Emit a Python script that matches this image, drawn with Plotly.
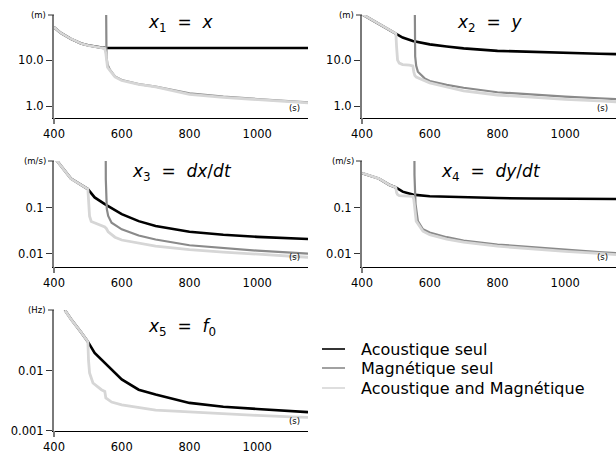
import plotly.graph_objects as go

# ---------------- data ----------------
# Panel 1 : x1 = x  (m)
p1_ac_t = [400, 420, 450, 480, 500, 520, 540, 550, 600, 700, 800, 900, 1000, 1100, 1150]
p1_ac_v = [52, 39, 29, 23, 21, 19.5, 18.7, 18.5, 18.4, 18.4, 18.4, 18.4, 18.4, 18.4, 18.4]
p1_mg_t = [552, 553, 555, 558, 565, 580, 600, 650, 700, 800, 900, 1000, 1100, 1150]
p1_mg_v = [1e4, 40, 12, 8, 6.2, 4.4, 3.7, 3.0, 2.65, 1.9, 1.6, 1.42, 1.27, 1.2]
p1_am_t = [400, 420, 450, 480, 500, 520, 540, 550, 553, 555, 558, 565, 580, 600, 650, 700, 800, 900, 1000, 1100, 1150]
p1_am_v = [52, 39, 29, 23, 21, 19.5, 18.3, 18, 14, 9, 7, 6, 4.3, 3.6, 2.95, 2.6, 1.8, 1.55, 1.4, 1.25, 1.17]

# Panel 2 : x2 = y  (m)
p2_ac_t = [400, 450, 500, 520, 550, 600, 650, 700, 800, 900, 1000, 1100, 1150]
p2_ac_v = [100, 62, 38, 31, 26, 22, 19.8, 18, 15.9, 15, 14.4, 13.8, 13.5]
p2_mg_t = [554, 555, 557, 560, 565, 585, 600, 650, 700, 800, 900, 1000, 1100, 1150]
p2_mg_v = [1e4, 40, 12, 7.5, 5.6, 4.0, 3.5, 2.9, 2.5, 2.0, 1.78, 1.6, 1.48, 1.42]
p2_am_t = [400, 450, 500, 502, 505, 510, 520, 540, 550, 553, 556, 560, 580, 600, 650, 700, 800, 900, 1000, 1100, 1150]
p2_am_v = [100, 62, 38, 20, 10, 8.6, 8.0, 7.8, 7.5, 5.5, 4.6, 4.3, 3.7, 3.2, 2.6, 2.15, 1.74, 1.55, 1.4, 1.3, 1.24]

# Panel 3 : x3 = dx/dt  (m/s)
p3_ac_t = [405, 450, 500, 520, 550, 600, 650, 700, 800, 900, 1000, 1100, 1150]
p3_ac_v = [1.1, 0.42, 0.25, 0.165, 0.118, 0.072, 0.051, 0.040, 0.030, 0.026, 0.0234, 0.0218, 0.021]
p3_mg_t = [552, 553, 556, 560, 570, 600, 650, 700, 800, 900, 1000, 1100, 1150]
p3_mg_v = [100, 0.4, 0.092, 0.066, 0.047, 0.034, 0.025, 0.0205, 0.0154, 0.0133, 0.0118, 0.0107, 0.0102]
p3_am_t = [405, 450, 500, 502, 505, 510, 530, 550, 555, 560, 580, 600, 700, 800, 900, 1000, 1100, 1150]
p3_am_v = [1.1, 0.42, 0.25, 0.12, 0.065, 0.05, 0.044, 0.038, 0.035, 0.030, 0.023, 0.020, 0.0147, 0.0124, 0.011, 0.010, 0.0089, 0.0085]

# Panel 4 : x4 = dy/dt  (m/s)
p4_ac_t = [400, 450, 480, 500, 520, 550, 600, 700, 800, 900, 1000, 1100, 1150]
p4_ac_v = [0.55, 0.42, 0.31, 0.27, 0.22, 0.19, 0.175, 0.165, 0.16, 0.157, 0.154, 0.153, 0.153]
p4_mg_t = [554, 555, 558, 565, 580, 600, 650, 700, 800, 900, 1000, 1100, 1150]
p4_mg_v = [100, 0.5, 0.12, 0.051, 0.034, 0.029, 0.023, 0.0195, 0.016, 0.014, 0.0124, 0.011, 0.0105]
p4_am_t = [400, 450, 480, 500, 502, 505, 510, 550, 553, 556, 560, 580, 600, 650, 700, 800, 900, 1000, 1100, 1150]
p4_am_v = [0.55, 0.42, 0.31, 0.27, 0.21, 0.19, 0.18, 0.175, 0.15, 0.085, 0.051, 0.031, 0.026, 0.021, 0.018, 0.0147, 0.0128, 0.0114, 0.0103, 0.0097]

# Panel 5 : x5 = f0  (Hz)
p5_ac_t = [432, 450, 480, 500, 520, 550, 600, 650, 700, 800, 900, 1000, 1100, 1150]
p5_ac_v = [0.1, 0.071, 0.043, 0.030, 0.0196, 0.0134, 0.0071, 0.0048, 0.0040, 0.0029, 0.0025, 0.0023, 0.0021, 0.00204]
p5_am_t = [432, 450, 480, 500, 502, 505, 515, 540, 550, 553, 570, 600, 700, 800, 900, 1000, 1100, 1150]
p5_am_v = [0.1, 0.071, 0.043, 0.030, 0.0145, 0.0091, 0.0062, 0.0048, 0.0045, 0.0035, 0.0030, 0.0027, 0.0022, 0.00204, 0.0019, 0.0018, 0.0017, 0.00167]

series_names = ["Acoustique seul", "Magnétique seul", "Acoustique and Magnétique"]
series_colors = ["#000000", "#8a8a8a", "#d6d6d6"]
series_widths = [2.6, 2.2, 2.8]

panel_titles = ["<i>x</i><sub>1</sub>  =  <i>x</i>",
                "<i>x</i><sub>2</sub>  =  <i>y</i>",
                "<i>x</i><sub>3</sub>  =  <i>dx</i>/<i>dt</i>",
                "<i>x</i><sub>4</sub>  =  <i>dy</i>/<i>dt</i>",
                "<i>x</i><sub>5</sub>  =  <i>f</i><sub>0</sub>"]
panel_units = ["(m)", "(m)", "(m/s)", "(m/s)", "(Hz)"]
x_tickvals = [400, 600, 800, 1000]
y_tickvals = [[10, 1], [10, 1], [0.1, 0.01], [0.1, 0.01], [0.01, 0.001]]
y_ticktext = [["10.0", "1.0"], ["10.0", "1.0"], ["0.1", "0.01"], ["0.1", "0.01"], ["0.01", "0.001"]]

panels = [
    [(p1_ac_t, p1_ac_v), (p1_mg_t, p1_mg_v), (p1_am_t, p1_am_v)],
    [(p2_ac_t, p2_ac_v), (p2_mg_t, p2_mg_v), (p2_am_t, p2_am_v)],
    [(p3_ac_t, p3_ac_v), (p3_mg_t, p3_mg_v), (p3_am_t, p3_am_v)],
    [(p4_ac_t, p4_ac_v), (p4_mg_t, p4_mg_v), (p4_am_t, p4_am_v)],
    [(p5_ac_t, p5_ac_v), None, (p5_am_t, p5_am_v)],
]

# ---------------- layout geometry ----------------
W, H = 616, 461
x_doms = [[54 / W, 308 / W], [362 / W, 1.0], [54 / W, 308 / W], [362 / W, 1.0], [54 / W, 308 / W]]
y_doms = [[1 - 118 / H, 1 - 15 / H], [1 - 118 / H, 1 - 15 / H],
          [1 - 267 / H, 1 - 161 / H], [1 - 267 / H, 1 - 161 / H],
          [1 - 431 / H, 1 - 310 / H]]
y_ranges = [[-0.26, 1.982], [-0.26, 1.982], [-2.28, 0.002], [-2.28, 0.002], [-3.003, -0.998]]
title_pos = [(181, 24), (490, 24), (182, 172), (491, 172), (182, 327)]

fig = go.Figure()
FONT = "DejaVu Sans"

for i, pdata in enumerate(panels):
    k = "" if i == 0 else str(i + 1)
    for s, d in enumerate(pdata):
        if d is None:
            continue
        fig.add_trace(go.Scatter(
            x=d[0], y=d[1], mode="lines", name=series_names[s],
            line=dict(color=series_colors[s], width=series_widths[s]),
            xaxis="x" + k, yaxis="y" + k, showlegend=False))
    fig.layout["xaxis" + k] = dict(
        domain=x_doms[i], range=[400, 1150], anchor="y" + k, automargin=False,
        showgrid=False, zeroline=False, showline=True, linecolor="#000000", linewidth=1.2,
        tickmode="array", tickvals=x_tickvals, ticks="outside", ticklen=5,
        tickcolor="rgba(0,0,0,0)", tickfont=dict(family=FONT, size=11.5, color="#000"))
    fig.layout["yaxis" + k] = dict(
        domain=y_doms[i], type="log", range=y_ranges[i], anchor="x" + k, automargin=False,
        showgrid=False, zeroline=False, showline=True, linecolor="#7a7a7a", linewidth=2,
        tickmode="array", tickvals=y_tickvals[i], ticktext=y_ticktext[i],
        ticks="outside", ticklen=6, tickwidth=1, tickcolor="#333",
        tickfont=dict(family=FONT, size=11.5, color="#000"))
    xd, yd = "x" + k + " domain", "y" + k + " domain"
    # top tick next to the unit label
    fig.add_shape(type="line", xref=xd, yref=yd, xsizemode="pixel", xanchor=0,
                  x0=-6, x1=0, y0=1, y1=1, line=dict(color="#333", width=1))
    # y axis line running a little below the x axis
    fig.add_shape(type="line", xref=xd, yref=yd, ysizemode="pixel", yanchor=0,
                  x0=0, x1=0, y0=-6, y1=0, line=dict(color="#7a7a7a", width=2))
    # unit labels
    fig.add_annotation(text=panel_units[i], xref=xd, yref=yd,
                       x=0, y=1, xanchor="right", yanchor="middle", xshift=-6, showarrow=False,
                       font=dict(family=FONT, size=8.5, color="#000"))
    fig.add_annotation(text="(s)", xref=xd, yref=yd,
                       x=1, y=0, xanchor="right", yanchor="bottom", xshift=-6, yshift=3, showarrow=False,
                       font=dict(family=FONT, size=8.5, color="#000"))
    tx, ty = title_pos[i]
    fig.add_annotation(text=panel_titles[i], xref="paper", yref="paper",
                       x=tx / W, y=1 - ty / H, xanchor="center", yanchor="middle", showarrow=False,
                       font=dict(family=FONT, size=17, color="#000"))

# legend (drawn as key lines + labels)
leg_y = [349, 368, 388]
for s in range(3):
    fig.add_shape(type="line", xref="paper", yref="paper",
                  x0=322 / W, x1=345 / W, y0=1 - leg_y[s] / H, y1=1 - leg_y[s] / H,
                  line=dict(color=series_colors[s], width=1.6))
    fig.add_annotation(text=series_names[s], xref="paper", yref="paper",
                       x=359 / W, y=1 - leg_y[s] / H, xanchor="left", yanchor="middle",
                       showarrow=False, font=dict(family=FONT, size=16, color="#000"))

fig.update_layout(width=W, height=H, margin=dict(l=0, r=0, t=0, b=0),
                  paper_bgcolor="white", plot_bgcolor="white", showlegend=False)

fig.write_html("out.html", config={"displayModeBar": False},
               post_script="document.body.style.margin='0';document.body.style.padding='0';")
